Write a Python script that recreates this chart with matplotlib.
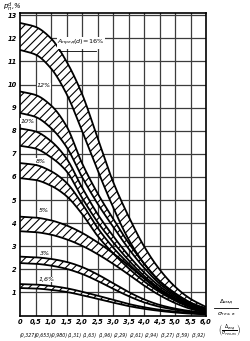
import numpy as np
import matplotlib
matplotlib.use("Agg")
import matplotlib.pyplot as plt

# ---------------- data ----------------
x_vals = [0.0, 0.5, 1.0, 1.5, 2.0, 2.5, 3.0, 3.5, 4.0, 4.5, 5.0, 5.5, 6.0]

band_16_upper = [12.67, 12.5, 12.0, 11.0, 9.6, 7.7, 5.8, 4.3, 3.0, 2.0, 1.25, 0.72, 0.37]
band_16_lower = [11.5, 11.3, 10.7, 9.6, 8.0, 6.3, 4.7, 3.3, 2.25, 1.48, 0.95, 0.55, 0.3]
band_12_upper = [9.7, 9.55, 9.1, 8.2, 6.6, 5.3, 4.2, 3.15, 2.25, 1.5, 0.97, 0.56, 0.28]
band_12_lower = [8.77, 8.6, 8.12, 7.3, 6.0, 4.85, 3.85, 2.9, 2.07, 1.38, 0.88, 0.5, 0.25]
band_10_upper = [8.1, 7.97, 7.55, 6.8, 5.55, 4.4, 3.45, 2.6, 1.87, 1.27, 0.82, 0.48, 0.23]
band_10_lower = [7.35, 7.23, 6.85, 6.25, 5.1, 4.05, 3.18, 2.4, 1.72, 1.17, 0.76, 0.44, 0.21]
band_8_upper = [6.6, 6.52, 6.25, 5.75, 4.85, 3.8, 2.95, 2.25, 1.63, 1.12, 0.72, 0.42, 0.2]
band_8_lower = [5.95, 5.87, 5.62, 5.17, 4.4, 3.45, 2.7, 2.05, 1.48, 1.02, 0.65, 0.38, 0.17]
band_5_upper = [4.28, 4.24, 4.12, 3.9, 3.58, 3.17, 2.7, 2.17, 1.6, 1.08, 0.66, 0.35, 0.15]
band_5_lower = [3.65, 3.61, 3.5, 3.3, 3.02, 2.66, 2.24, 1.78, 1.3, 0.88, 0.54, 0.29, 0.12]
band_3_upper = [2.55, 2.52, 2.45, 2.32, 2.1, 1.78, 1.4, 1.02, 0.7, 0.46, 0.3, 0.19, 0.11]
band_3_lower = [2.27, 2.24, 2.16, 2.02, 1.8, 1.5, 1.16, 0.84, 0.57, 0.38, 0.25, 0.15, 0.08]
band_16p_upper = [1.36, 1.34, 1.28, 1.18, 1.03, 0.86, 0.68, 0.5, 0.36, 0.25, 0.17, 0.11, 0.07]
band_16p_lower = [1.19, 1.17, 1.11, 1.02, 0.88, 0.72, 0.56, 0.41, 0.29, 0.2, 0.13, 0.08, 0.05]

x_ticks = [0.0, 0.5, 1.0, 1.5, 2.0, 2.5, 3.0, 3.5, 4.0, 4.5, 5.0, 5.5, 6.0]
x_tick_labels = ["0", "0,5", "1,0", "1,5", "2,0", "2,5", "3,0", "3,5", "4,0", "4,5", "5,0", "5,5", "6,0"]
x_second_labels = ["(0,327)", "(0,653)", "(0,980)", "(1,31)", "(1,63)", "(1,96)",
                   "(2,29)", "(2,61)", "(2,94)", "(3,27)", "(3,59)", "(3,92)"]
y_ticks = list(range(1, 14))
y_tick_labels = [str(v) for v in y_ticks]

bands = [
    (band_16_upper, band_16_lower),
    (band_12_upper, band_12_lower),
    (band_10_upper, band_10_lower),
    (band_8_upper, band_8_lower),
    (band_5_upper, band_5_lower),
    (band_3_upper, band_3_lower),
    (band_16p_upper, band_16p_lower),
]
band_labels = [
    (1.2, 11.8, r"$A_{пред}(d)\!=\!16\%$"),
    (0.55, 9.95, "12%"),
    (0.02, 8.42, "10%"),
    (0.5, 6.69, "8%"),
    (0.6, 4.53, "5%"),
    (0.65, 2.7, "3%"),
    (0.6, 1.56, "1,6%"),
]


def smooth(xs, ys, n=20):
    """Monotone cubic Hermite rendering through the read points."""
    xs = np.asarray(xs, float)
    ys = np.asarray(ys, float)
    h = np.diff(xs)
    d = np.diff(ys) / h
    m = np.zeros_like(ys)
    m[0], m[-1] = d[0], d[-1]
    for i in range(1, len(xs) - 1):
        if d[i - 1] * d[i] <= 0:
            m[i] = 0
        else:
            w1 = 2 * h[i] + h[i - 1]
            w2 = h[i] + 2 * h[i - 1]
            m[i] = (w1 + w2) / (w1 / d[i - 1] + w2 / d[i])
    X, Y = [], []
    for i in range(len(xs) - 1):
        t = np.linspace(0, 1, n, endpoint=False)
        h00 = 2 * t**3 - 3 * t**2 + 1
        h10 = t**3 - 2 * t**2 + t
        h01 = -2 * t**3 + 3 * t**2
        h11 = t**3 - t**2
        X.append(xs[i] + t * h[i])
        Y.append(h00 * ys[i] + h10 * h[i] * m[i] + h01 * ys[i + 1] + h11 * h[i] * m[i + 1])
    X.append([xs[-1]])
    Y.append([ys[-1]])
    return np.concatenate(X), np.concatenate(Y)


plt.rcParams["hatch.linewidth"] = 0.8
W, H = 251, 341
fig = plt.figure(figsize=(W / 100, H / 100), dpi=100)
ax = fig.add_axes([20 / W, 25.5 / H, 186 / W, 302.5 / H])
ax.set_xlim(0, 6)
ax.set_ylim(0, 13.1)

for xv in x_ticks[1:-1]:
    ax.axvline(xv, color="#3c3c3c", lw=0.9, zorder=1)
for yv in range(1, 14):
    ax.axhline(yv, color="#3c3c3c", lw=0.9, zorder=1)

for up, lo in bands:
    xs, yu = smooth(x_vals, up)
    _, yl = smooth(x_vals, lo)
    ax.fill_between(xs, yl, yu, facecolor="white", edgecolor="black",
                    hatch="////", linewidth=0, zorder=2)
    ax.plot(xs, yu, color="black", lw=1.3, zorder=3, solid_capstyle="butt")
    ax.plot(xs, yl, color="black", lw=1.3, zorder=3, solid_capstyle="butt")

for bx, by, t in band_labels:
    ax.text(bx, by, t, fontsize=4.6, style="italic", ha="left", va="center",
            zorder=4, bbox=dict(facecolor="white", edgecolor="none", pad=0.3))
# underline of the 16 % label
ax.plot([1.25, 2.45], [11.45, 11.45], color="black", lw=0.6, zorder=5)

for s in ax.spines.values():
    s.set_linewidth(1.2)
    s.set_color("black")

ax.set_xticks(x_ticks)
ax.set_xticklabels(x_tick_labels, fontsize=4.8, style="italic", fontweight="bold")
ax.set_yticks(y_ticks)
ax.set_yticklabels(y_tick_labels, fontsize=4.8, style="italic", fontweight="bold")
ax.tick_params(length=0, pad=2.5)

for i, lab in enumerate(x_second_labels):
    ax.text(x_ticks[i] + 0.25, -0.85, lab, fontsize=3.3, style="italic",
            ha="center", va="center", clip_on=False)

fig.text(3 / W, 1 - 7 / H, r"$p_п^{d}$,%", fontsize=5, style="italic", ha="left", va="center")
fig.text(226 / W, 1 - 302 / H, r"$\Delta_{изд}$", fontsize=4.5, style="italic", ha="center", va="center")
fig.text(226 / W, 1 - 314 / H, r"$\sigma_{тех,в}$", fontsize=4.5, style="italic", ha="center", va="center")
fig.add_artist(plt.Line2D([214 / W, 238 / W], [1 - 308 / H, 1 - 308 / H], color="black", lw=0.6))
fig.text(230 / W, 1 - 330 / H, r"$\left(\frac{\Delta_{изд}}{\sigma_{тех,пч}}\right)$",
         fontsize=4.8, ha="center", va="center")

fig.savefig("out.png", dpi=100, facecolor="white")
